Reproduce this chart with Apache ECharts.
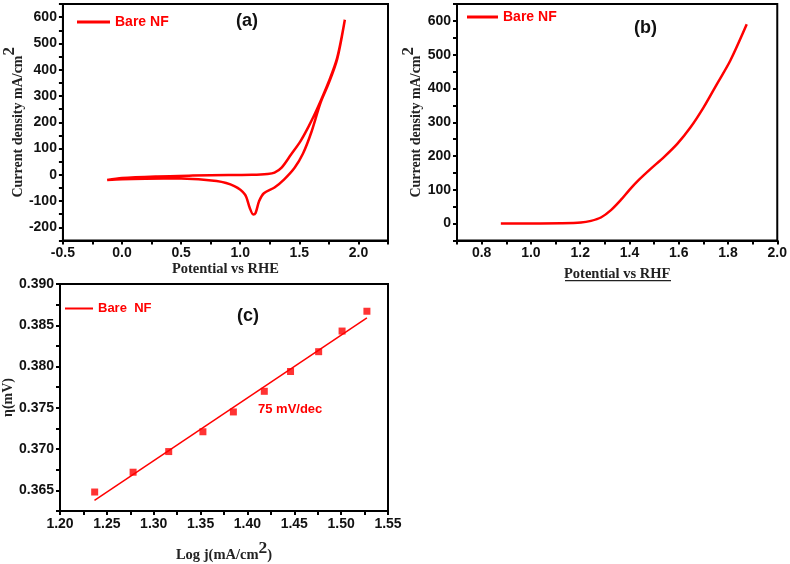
<!DOCTYPE html>
<html><head><meta charset="utf-8">
<script src="https://cdn.jsdelivr.net/npm/echarts@6/dist/echarts.min.js"></script>
<style>html,body{margin:0;padding:0;background:#fff}#c{width:790px;height:564px}</style>
</head><body><div id="c"></div>
<script>
// Panel (a): cyclic voltammogram [potential V vs RHE, current density mA/cm2]
const cvPotential = [-0.126,0.0,0.3,0.6,0.9,1.1,1.23,1.29,1.35,1.43,1.51,1.58,1.65,1.75,1.82,1.885,
  1.82,1.75,1.68,1.6,1.53,1.46,1.37,1.29,1.2,1.16,1.13,1.11,1.08,1.04,0.95,0.8,0.5,0.2,0.0,-0.126];
const cvCurrent = [-20,-12,-6,-3,-1,0,3,8,27,77,128,185,250,356,445,590,
  440,350,275,160,80,27,-18,-48,-70,-100,-145,-151,-125,-75,-43,-24,-14,-15,-17,-20];
// Panel (b): linear sweep voltammogram
const lsvPotential = [0.878,1.0,1.123,1.203,1.244,1.284,1.325,1.365,1.40,1.439,1.486,1.54,1.594,1.648,1.701,1.755,1.809,1.876];
const lsvCurrent = [0,0.5,1,3,8,18,40,70,100,130,162,197,236,285,344,413,482,590];
// Panel (c): Tafel points and fit
const tafelLogJ = [1.237,1.278,1.316,1.3525,1.385,1.418,1.446,1.476,1.501,1.5275];
const tafelEta = [0.3648,0.3672,0.3697,0.3721,0.3745,0.3770,0.3794,0.3818,0.3843,0.3867];
const fitLogJ = [1.2368,1.5275];
const fitEta = [0.3638,0.3859];
// Labels
const seriesName = 'Bare NF';
const seriesNameC = 'Bare  NF';
const panelLabels = ['(a)','(b)','(c)'];
const slopeLabel = '75 mV/dec';

const zip = (a,b)=>a.map((v,i)=>[v,b[i]]);
const RED = '#ff0000';
const SANS = 'Liberation Sans, Arial, sans-serif';
const SERIF = 'Liberation Serif, Times New Roman, serif';
const tickFont = {fontFamily:SANS,fontWeight:'bold',fontSize:14,color:'#111'};
function nameFont(size){
  return {fontFamily:SERIF,fontWeight:'bold',fontSize:size,color:'#222',
    rich:{
      n:{fontFamily:SERIF,fontWeight:'bold',fontSize:size,color:'#222',lineHeight:24,verticalAlign:'bottom'},
      s:{fontFamily:SERIF,fontWeight:'bold',fontSize:size+3,color:'#222',lineHeight:24,verticalAlign:'top'}}};
}
const axisLine = {show:true,onZero:false,lineStyle:{color:'#000',width:2}};
const axisTick = {show:true,inside:false,length:4,lineStyle:{color:'#000',width:2}};
function fmtEvery(step, dec){
  return v => { const r = Math.round(v/step*1000)/1000; return Math.abs(r-Math.round(r))<1e-6 ? v.toFixed(dec) : ''; };
}
function xAx(grid,min,max,interval,labelStep,dec,name,gap){
  return {type:'value',gridIndex:grid,min,max,interval,splitLine:{show:false},axisLine,axisTick,
    axisLabel:Object.assign({margin:6,showMaxLabel:true,formatter:fmtEvery(labelStep,dec)},tickFont),
    name,nameLocation:'middle',nameGap:gap,nameTextStyle:nameFont(14.5)};
}
function yAx(grid,min,max,interval,labelStep,dec,name,gap){
  return {type:'value',gridIndex:grid,min,max,interval,splitLine:{show:false},axisLine,axisTick,
    axisLabel:Object.assign({margin:6,formatter:fmtEvery(labelStep,dec)},tickFont),
    name,nameLocation:'middle',nameGap:gap,nameRotate:90,nameTextStyle:nameFont(14)};
}
const chart = echarts.init(document.getElementById('c'),null,{renderer:'canvas'});
const legendText = {color:RED,fontFamily:SANS,fontWeight:'bold',fontSize:14};
const panelFont = {fontSize:18,fontWeight:'bold',color:'#111',fontFamily:SANS};
const option = {
  animation:false,
  backgroundColor:'#fff',
  grid:[
    {left:60.5,top:4,width:327.5,height:236.5,show:true,borderColor:'#000',borderWidth:2},
    {left:457,top:4,width:322,height:236.5,show:true,borderColor:'#000',borderWidth:2},
    {left:60,top:284,width:328,height:231,show:true,borderColor:'#000',borderWidth:2}
  ],
  xAxis:[
    xAx(0,-0.5,2.25,0.25,0.5,1,'Potential vs RHE',21),
    xAx(1,0.7,2.0,0.1,0.2,1,'Potential vs RHF',26),
    xAx(2,1.2,1.55,0.025,0.05,2,'{n|Log j(mA/cm}{s|2}{n|)}',28)
  ],
  yAxis:[
    yAx(0,-250,650,50,100,0,'{n|Current density mA/cm}{s|2}',31),
    yAx(1,-50,650,50,100,0,'{n|Current density mA/cm}{s|2}',31),
    yAx(2,0.3625,0.390,0.0025,0.005,3,'\u03B7(mV)',43)
  ],
  legend:[
    {data:[seriesName],left:77,top:15,padding:0,itemWidth:33,itemHeight:3,icon:'rect',textStyle:legendText},
    {data:[seriesName+' '],left:467,top:10,padding:0,itemWidth:31,itemHeight:3,icon:'rect',textStyle:legendText},
    {data:[seriesNameC],left:65,top:302,padding:0,itemWidth:28,itemHeight:2,icon:'rect',textStyle:Object.assign({},legendText,{fontSize:13})}
  ],
  title:[
    {text:panelLabels[0],left:236,top:12,padding:0,textStyle:panelFont},
    {text:panelLabels[1],left:634,top:19,padding:0,textStyle:panelFont},
    {text:panelLabels[2],left:237,top:307,padding:0,textStyle:panelFont},
    {text:slopeLabel,left:258,top:403,padding:0,textStyle:{fontSize:13,fontWeight:'bold',color:RED,fontFamily:SANS}}
  ],
  graphic:[{type:'rect',shape:{x:565,y:280,width:106,height:1.2},style:{fill:'#222'}}],
  series:[
    {name:seriesName,type:'line',xAxisIndex:0,yAxisIndex:0,data:zip(cvPotential,cvCurrent),smooth:0.3,showSymbol:false,lineStyle:{color:RED,width:2.5},itemStyle:{color:RED}},
    {name:seriesName+' ',type:'line',xAxisIndex:1,yAxisIndex:1,data:zip(lsvPotential,lsvCurrent),smooth:0.3,showSymbol:false,lineStyle:{color:RED,width:2.5},itemStyle:{color:RED}},
    {name:seriesNameC,type:'line',xAxisIndex:2,yAxisIndex:2,data:zip(fitLogJ,fitEta),showSymbol:false,lineStyle:{color:RED,width:1.5},itemStyle:{color:RED}},
    {name:'points',type:'scatter',xAxisIndex:2,yAxisIndex:2,data:zip(tafelLogJ,tafelEta),symbol:'rect',symbolSize:7,itemStyle:{color:RED}}
  ]
};
chart.setOption(option);
</script></body></html>
